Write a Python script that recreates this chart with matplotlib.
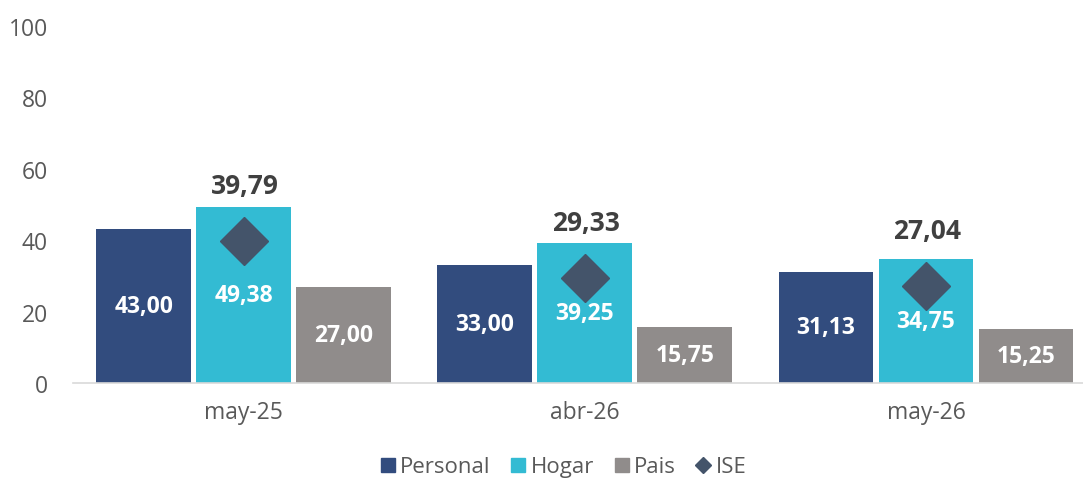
import matplotlib.pyplot as plt
from matplotlib.lines import Line2D
import numpy as np

plt.rcParams['font.family'] = ['Open Sans', 'DejaVu Sans']

periods = ['may-25', 'abr-26', 'may-26']
personal = [43.00, 33.00, 31.13]
hogar = [49.38, 39.25, 34.75]
pais = [27.00, 15.75, 15.25]
ise = [39.79, 29.33, 27.04]

def fmt(v):
    return f'{v:.2f}'.replace('.', ',')

fig = plt.figure(figsize=(10.83, 4.81), dpi=100)
ax = fig.add_axes([73 / 1083, 1 - 384 / 481, 1 - 73 / 1083, (384 - 27) / 481])

x = np.arange(len(periods))
w = 0.278
off = 0.293
series = [(personal, '#324C7E', 'Personal'), (hogar, '#33BBD3', 'Hogar'), (pais, '#908C8B', 'Pais')]
for i, (vals, col, name) in enumerate(series):
    bars = ax.bar(x + (i - 1) * off, vals, w, color=col, zorder=2)
    for b, v in zip(bars, vals):
        ax.text(b.get_x() + b.get_width() / 2, v / 2, fmt(v), ha='center', va='center',
                color='white', fontsize=16.5, fontweight='bold', zorder=4)

ax.plot(x, ise, linestyle='none', marker='D', markersize=24, color='#44546A', zorder=3)
for xi, v in zip(x, ise):
    ax.annotate(fmt(v), (xi, v), xytext=(1, 40), textcoords='offset points', ha='center', va='center',
                fontsize=19, fontweight='bold', color='#404040')

ax.set_ylim(0, 100)
ax.set_xlim(-0.5, 2.46)
ax.set_yticks([0, 20, 40, 60, 80, 100])
ax.set_xticks(x)
ax.set_xticklabels(periods)
ax.tick_params(length=0, labelsize=16.5, labelcolor='#595959')
ax.tick_params(axis='y', pad=18)
ax.tick_params(axis='x', pad=12)
for s in ['top', 'right', 'left']:
    ax.spines[s].set_visible(False)
ax.spines['bottom'].set_color('#D9D9D9')
ax.spines['bottom'].set_linewidth(1.2)

handles = [Line2D([], [], linestyle='none', marker='s', markersize=10, color=c) for _, c, _ in series]
handles.append(Line2D([], [], linestyle='none', marker='D', markersize=8, color='#44546A'))
labels = [n for _, _, n in series] + ['ISE']
fig.legend(handles, labels, loc='center', bbox_to_anchor=(0.52, 1 - 468 / 481), ncol=4,
           frameon=False, fontsize=16, handlelength=0.7, handletextpad=0.2, columnspacing=0.9,
           labelcolor='#595959')

fig.savefig('out.png', dpi=100)
